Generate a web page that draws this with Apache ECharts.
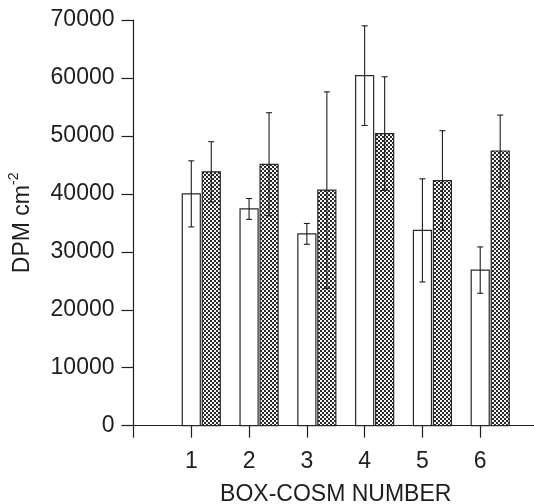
<!DOCTYPE html>
<html>
<head>
<meta charset="utf-8">
<script src="https://cdn.jsdelivr.net/npm/echarts@6/dist/echarts.min.js"></script>
<style>
html,body{margin:0;padding:0;background:#fff;}
#chart{width:534px;height:504px;}
</style>
</head>
<body>
<div id="chart"></div>
<script>
// ---- data ----
const categories = [1, 2, 3, 4, 5, 6];
const whiteValues = [40000, 37400, 33100, 60400, 33700, 26850];
const whiteErrors = [5700, 1800, 1800, 8600, 8900, 4000];
const hatchValues = [43800, 45100, 40650, 50400, 42300, 47400];
const hatchErrors = [5200, 8900, 16950, 9800, 8600, 6200];
const yTickLabels = ['0', '10000', '20000', '30000', '40000', '50000', '60000', '70000'];

// ---- style / layout constants ----
const FONT = 'Liberation Sans, Arial, Helvetica, sans-serif';
const INK = '#1e1e1e';
const HALF_W = 0.156;       // half bar width in x units
const HATCH_OFFSET = 0.346; // hatched bar centre offset from category
const CAP = 3;              // half cap width px

function makeHatch() {
  const c = document.createElement('canvas');
  c.width = 4; c.height = 4;
  const g = c.getContext('2d');
  g.fillStyle = '#2a2a2a';
  g.fillRect(0, 0, 4, 4);
  g.fillStyle = '#f4f4f4';
  g.fillRect(0, 0, 2, 2);
  g.fillRect(2, 2, 2, 2);
  return c;
}
const hatchPattern = { image: makeHatch(), repeat: 'repeat' };

function buildData(values, errors, offset) {
  return categories.map((c, i) => [c + offset, values[i], errors[i]]);
}

function renderer(fill) {
  return function (params, api) {
    const x = api.value(0), y = api.value(1), e = api.value(2);
    const pL = api.coord([x - HALF_W, y]);
    const pR = api.coord([x + HALF_W, 0]);
    const top = api.coord([x, y + e]);
    const bot = api.coord([x, y - e]);
    const lineStyle = { stroke: INK, lineWidth: 1.1 };
    return {
      type: 'group',
      children: [
        { type: 'rect', shape: { x: pL[0], y: pL[1], width: pR[0] - pL[0], height: pR[1] - pL[1] },
          style: { fill: fill, stroke: '#2a2a2a', lineWidth: 1.2 } },
        { type: 'line', shape: { x1: top[0], y1: top[1], x2: bot[0], y2: bot[1] }, style: lineStyle },
        { type: 'line', shape: { x1: top[0] - CAP, y1: top[1], x2: top[0] + CAP, y2: top[1] }, style: lineStyle },
        { type: 'line', shape: { x1: bot[0] - CAP, y1: bot[1], x2: bot[0] + CAP, y2: bot[1] }, style: lineStyle }
      ]
    };
  };
}

const chart = echarts.init(document.getElementById('chart'), null, { renderer: 'canvas' });
chart.setOption({
  animation: false,
  backgroundColor: '#fff',
  grid: { left: 133.5, right: -4, top: 20, bottom: 78.3, containLabel: false, outerBoundsMode: 'none' },
  xAxis: {
    type: 'value', min: 0, max: 7, interval: 1,
    splitLine: { show: false },
    axisLine: { lineStyle: { color: INK, width: 1.2 } },
    axisTick: { show: true, inside: false, length: 12, lineStyle: { color: INK, width: 1.2 } },
    axisLabel: {
      margin: 24, color: INK, fontSize: 23, fontFamily: FONT,
      formatter: v => (categories.indexOf(v) >= 0 ? String(categories[categories.indexOf(v)]) : '')
    },
    name: 'BOX-COSM NUMBER', nameLocation: 'middle', nameGap: 57,
    nameTextStyle: { color: INK, fontSize: 23, fontFamily: FONT }
  },
  yAxis: {
    type: 'value', min: 0, max: 70000, interval: 10000,
    splitLine: { show: false },
    axisLine: { show: true, lineStyle: { color: INK, width: 1.2 } },
    axisTick: { show: true, inside: false, length: 12, lineStyle: { color: INK, width: 1.2 } },
    axisLabel: {
      margin: 19, color: INK, fontSize: 23, fontFamily: FONT,
      formatter: (v) => yTickLabels[Math.round(v / 10000)] || ''
    },
    name: '{main|DPM cm}{sup|-2}', nameLocation: 'middle', nameRotate: 90, nameGap: 96,
    nameTextStyle: {
      color: INK, fontFamily: FONT,
      rich: {
        main: { fontSize: 23, lineHeight: 30, fontFamily: FONT, color: INK },
        sup: { fontSize: 14, lineHeight: 14, verticalAlign: 'top', fontFamily: FONT, color: INK }
      }
    }
  },
  series: [
    { type: 'custom', name: 'open', data: buildData(whiteValues, whiteErrors, 0),
      renderItem: renderer('#ffffff'), encode: { x: 0, y: 1 }, clip: false },
    { type: 'custom', name: 'hatched', data: buildData(hatchValues, hatchErrors, HATCH_OFFSET),
      renderItem: renderer(hatchPattern), encode: { x: 0, y: 1 }, clip: false }
  ]
});
</script>
</body>
</html>
